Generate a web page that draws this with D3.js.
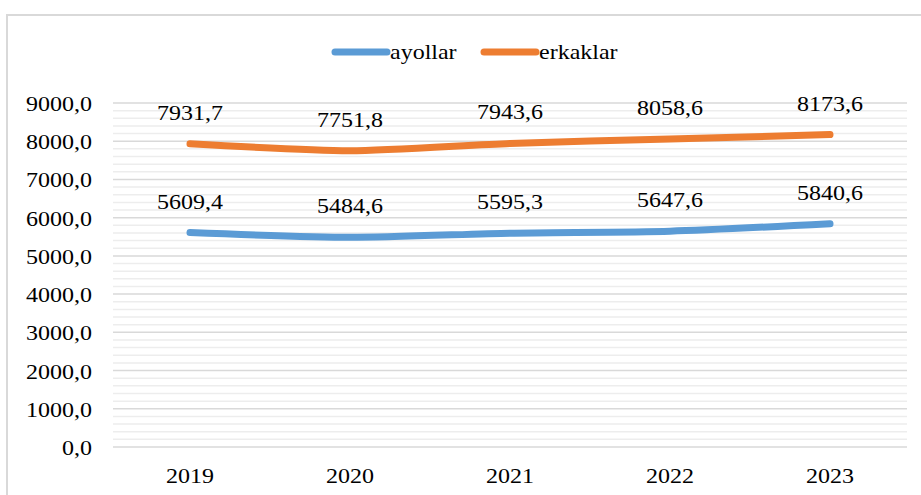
<!DOCTYPE html>
<html>
<head>
<meta charset="utf-8">
<script src="https://cdn.jsdelivr.net/npm/d3@7"></script>
<style>
  html, body { margin: 0; padding: 0; background: #ffffff; }
  svg { display: block; }
</style>
</head>
<body>
<svg id="chart" width="921" height="495"></svg>
<script>
const years = ["2019", "2020", "2021", "2022", "2023"];
const ayollar = [5609.4, 5484.6, 5595.3, 5647.6, 5840.6];
const erkaklar = [7931.7, 7751.8, 7943.6, 8058.6, 8173.6];
const seriesNames = ["ayollar", "erkaklar"];
const seriesColors = ["#5b9bd5", "#ed7d31"];
const yMajorTicks = [0, 1000, 2000, 3000, 4000, 5000, 6000, 7000, 8000, 9000];
const yMinorTicks = d3.range(0, 9001, 200).filter(v => v % 1000 !== 0);

const svg = d3.select("#chart");
const fmt = v => v.toFixed(1).replace(".", ",");
const SX = 1.2;   // horizontal stretch of the original rendering
const FS = 20;

// outer border
svg.append("rect")
  .attr("x", 7).attr("y", 15).attr("width", 1000).attr("height", 1000)
  .attr("fill", "#fff").attr("stroke", "#d9d9d9").attr("stroke-width", 2);

const x = d3.scaleBand().domain(years).range([110, 910]);
const cx = d => x(d) + x.bandwidth() / 2;
const y = d3.scaleLinear().domain([0, 9000]).range([447, 103]);
const gx0 = 113, gx1 = 907;

function stretchedText(g, tx, ty, str, anchor) {
  g.append("text")
    .attr("transform", `translate(${tx},${ty}) scale(${SX},1)`)
    .attr("text-anchor", anchor)
    .style("font-family", '"Liberation Serif"')
    .attr("font-size", FS)
    .attr("fill", "#000")
    .text(str);
}

// minor gridlines
svg.append("g").selectAll("line").data(yMinorTicks).join("line")
  .attr("x1", gx0).attr("x2", gx1)
  .attr("y1", d => y(d)).attr("y2", d => y(d))
  .attr("stroke", "#ededed").attr("stroke-width", 1.5);

// major gridlines
svg.append("g").selectAll("line").data(yMajorTicks).join("line")
  .attr("x1", gx0).attr("x2", gx1)
  .attr("y1", d => y(d)).attr("y2", d => y(d))
  .attr("stroke", "#d9d9d9").attr("stroke-width", 1.5);

// y labels
const yl = svg.append("g");
yMajorTicks.forEach(v => stretchedText(yl, 92, y(v) + 8, fmt(v), "end"));

// x labels
const xl = svg.append("g");
years.forEach(yr => stretchedText(xl, cx(yr), 483, yr, "middle"));

// lines
const data = [ayollar, erkaklar];
const line = d3.line()
  .x((d, i) => cx(years[i]))
  .y(d => y(d))
  .curve(d3.curveCardinal.tension(0.3));

data.forEach((vals, si) => {
  svg.append("path")
    .datum(vals)
    .attr("d", line)
    .attr("fill", "none")
    .attr("stroke", seriesColors[si])
    .attr("stroke-width", 7)
    .attr("stroke-linecap", "round")
    .attr("stroke-linejoin", "round");
  const lg = svg.append("g");
  vals.forEach((v, i) => stretchedText(lg, cx(years[i]), y(v) - 24, fmt(v), "middle"));
});

// legend
const legendX = [335, 484];
const leg = svg.append("g");
seriesNames.forEach((name, i) => {
  leg.append("line")
    .attr("x1", legendX[i]).attr("x2", legendX[i] + 52)
    .attr("y1", 52).attr("y2", 52)
    .attr("stroke", seriesColors[i]).attr("stroke-width", 7)
    .attr("stroke-linecap", "round");
  stretchedText(leg, legendX[i] + 55, 59, name, "start");
});
</script>
</body>
</html>
